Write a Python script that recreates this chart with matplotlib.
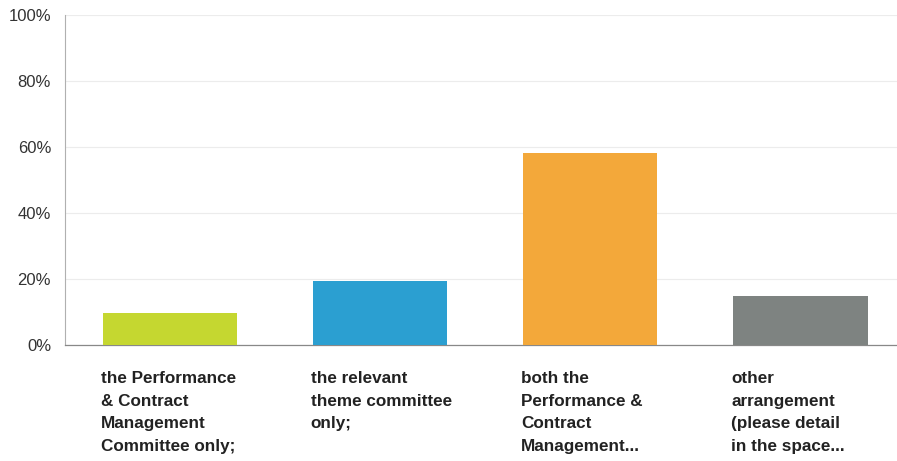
import matplotlib.pyplot as plt
from matplotlib.ticker import FuncFormatter
import matplotlib.transforms as mtransforms

categories = [
    "the Performance\n& Contract\nManagement\nCommittee only;",
    "the relevant\ntheme committee\nonly;",
    "both the\nPerformance &\nContract\nManagement...",
    "other\narrangement\n(please detail\nin the space...",
]
values = [9.7, 19.4, 58.2, 14.8]
colors = ["#c5d730", "#2b9fd1", "#f3a83a", "#7e8381"]

plt.rcParams['font.family'] = ['Liberation Sans', 'DejaVu Sans']

fig = plt.figure(figsize=(8.97, 4.61), dpi=100)
ax = fig.add_axes([65 / 897, 116 / 461, 832 / 897, 330 / 461])

x = range(len(values))
ax.bar(x, values, width=0.64, color=colors, zorder=3)

ax.set_ylim(0, 100)
ax.set_xlim(-0.5, 3.46)
ax.set_yticks(range(0, 101, 20))
ax.yaxis.set_major_formatter(FuncFormatter(lambda v, p: f"{int(v)}%"))
ax.tick_params(axis='y', length=0, pad=10, labelsize=12, labelcolor="#333333")
ax.set_xticks([])
ax.grid(axis='y', color="#ececec", lw=0.8, zorder=0)

for s in ['top', 'right']:
    ax.spines[s].set_visible(False)
ax.spines['left'].set_color("#b0b0b0")
ax.spines['bottom'].set_color("#888888")
ax.spines['left'].set_linewidth(0.8)
ax.spines['bottom'].set_linewidth(0.9)

trans = mtransforms.blended_transform_factory(ax.transData, ax.transAxes)
for i, lab in enumerate(categories):
    ax.text(i - 0.33, -0.078, lab, transform=trans, ha='left', va='top',
            fontsize=12.3, fontweight='bold', color="#222222", linespacing=1.65)

fig.savefig("out.png", dpi=100)
